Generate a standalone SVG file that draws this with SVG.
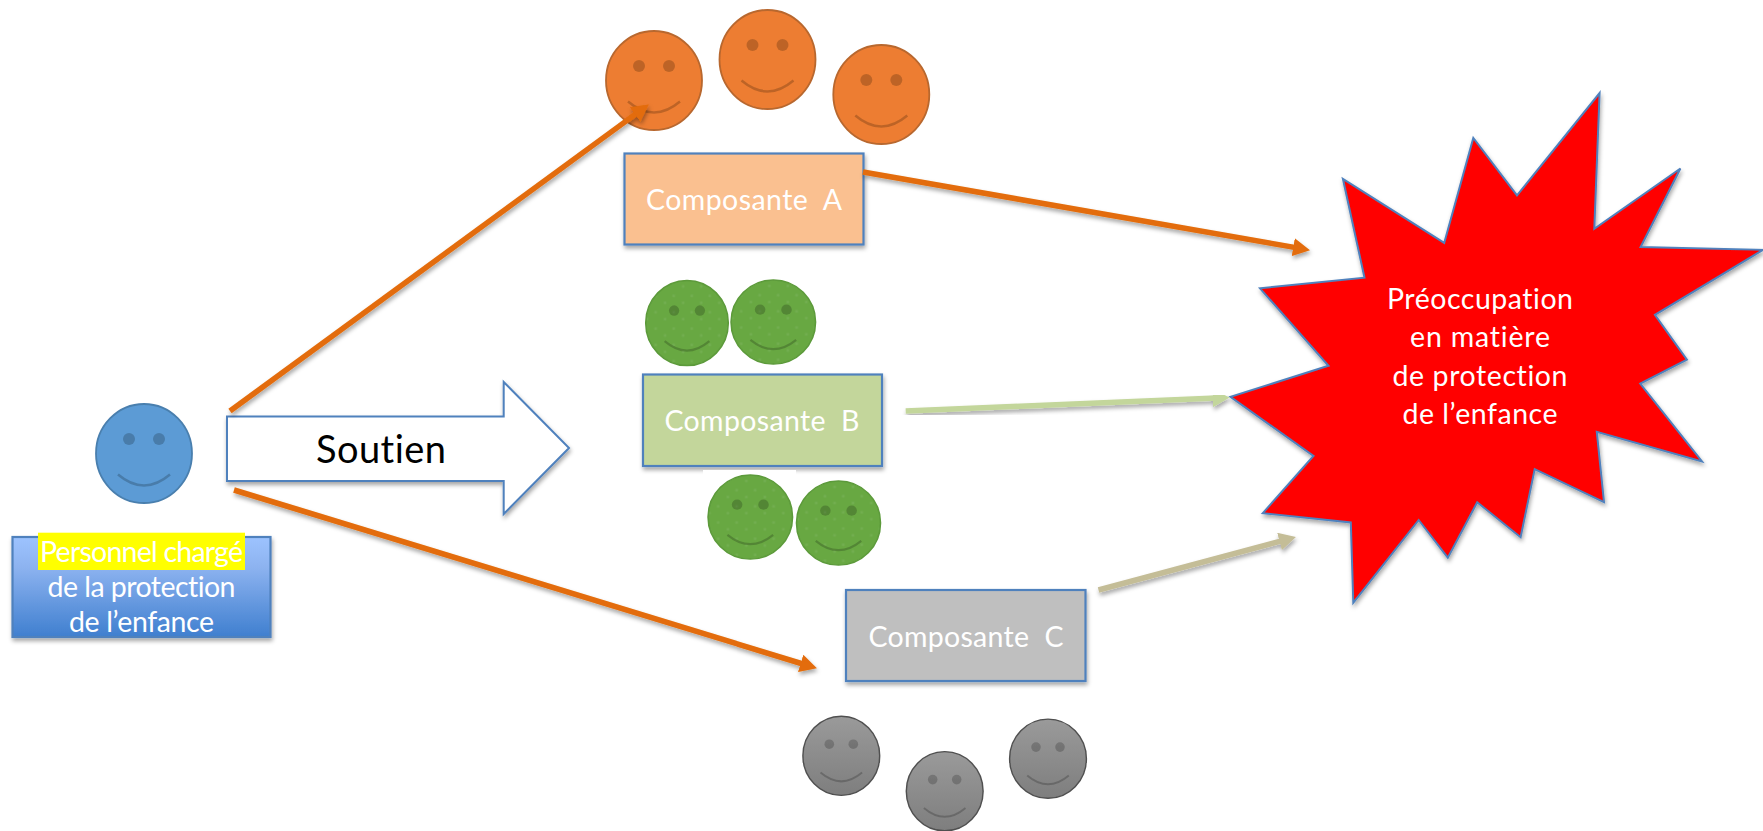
<svg xmlns="http://www.w3.org/2000/svg" xmlns:xlink="http://www.w3.org/1999/xlink" width="1763" height="831" viewBox="0 0 1763 831">
<style>
text{font-family:"Lato","Carlito","Liberation Sans",sans-serif;fill:#fff;text-anchor:middle;font-size:28.5px;font-variant-ligatures:none}
.box{stroke:#4F81BD;stroke-width:2.2;filter:url(#sh)}
.link{fill:none;stroke-width:5.5;filter:url(#sh)}
.orange{stroke:#E36C09}.leaf{stroke:#C3D69B}.tan{stroke:#C4BD97}
.faces{filter:url(#soft)}
.fo{fill:#ED7D31;stroke:#B8672F}.fb{fill:#5B9BD5;stroke:#4A7FAE}
.fg{fill:url(#speck);stroke:#5C9A3A}.fk{fill:url(#grey);stroke:#505050}
.eye{fill:#000;fill-opacity:.2;stroke:none}
.smile{fill:none;stroke:#000;stroke-opacity:.2;stroke-width:2.5}
.fk .eye{fill-opacity:.5}.fk .smile{stroke-opacity:.6;stroke-width:3.5}
.fk ellipse{stroke-width:3}
.fg .eye{fill-opacity:.28}.fg .smile{stroke-width:3.5}
</style>
<defs>
<filter id="sh" x="-20%" y="-20%" width="140%" height="150%"><feDropShadow dx="1" dy="3" stdDeviation="2" flood-color="#000" flood-opacity=".35"/></filter>
<filter id="soft" x="-5%" y="-5%" width="110%" height="110%"><feGaussianBlur stdDeviation=".7"/></filter>
<linearGradient id="blue" x1="0" y1="0" x2="0" y2="1"><stop offset="0" stop-color="#9DC3FF"/><stop offset=".3" stop-color="#8DB3F0"/><stop offset="1" stop-color="#3F7FCF"/></linearGradient>
<linearGradient id="grey" x1="0" y1="0" x2="0" y2="1"><stop offset="0" stop-color="#9A9A9A"/><stop offset="1" stop-color="#7E7E7E"/></linearGradient>
<pattern id="speck" width="21" height="19" patternUnits="userSpaceOnUse"><rect width="21" height="19" fill="#68A842"/><rect x="4" y="5" width="3" height="3" fill="#72AE50"/><rect x="15" y="13" width="3" height="3" fill="#72AE50"/></pattern>
<marker id="mo" markerUnits="userSpaceOnUse" markerWidth="17" markerHeight="18" viewBox="0 -9 17 18" refX="4" refY="0" orient="auto"><path d="M0-9L17 0L0 9Z" fill="#E36C09"/></marker>
<marker id="ml" markerUnits="userSpaceOnUse" markerWidth="17" markerHeight="18" viewBox="0 -9 17 18" refX="4" refY="0" orient="auto"><path d="M0-9L17 0L0 9Z" fill="#C3D69B"/></marker>
<marker id="mt" markerUnits="userSpaceOnUse" markerWidth="17" markerHeight="18" viewBox="0 -9 17 18" refX="4" refY="0" orient="auto"><path d="M0-9L17 0L0 9Z" fill="#C4BD97"/></marker>
<g id="face"><ellipse rx="48" ry="49.5" stroke-width="1.8"/><circle class="eye" cx="-15" cy="-14.5" r="6"/><circle class="eye" cx="15" cy="-14.5" r="6"/><path class="smile" d="M-26 21Q0 43 26 21"/></g>
</defs>
<rect width="1763" height="831" fill="#fff"/>

<g id="star">
<path d="M1599.6 93L1594.3 228.8L1680.4 168.5L1640.6 247L1763 249.8L1654.9 314.9L1686.9 359.6L1640.2 383.7L1702 461.5L1596.8 431.9L1604 502.2L1534.7 469.1L1520.6 537.3L1477.2 502.2L1447.8 557.6L1418.7 520L1353.3 602.7L1350.8 522.5L1262.8 513.2L1313.5 456L1230.5 396.8L1328.5 365.8L1260 288.3L1364.5 277.7L1342.9 178.8L1444.2 242.9L1473.3 137.9L1517 195.4Z" fill="#f00" stroke="#4F81BD" stroke-width="2" filter="url(#sh)"/>
<text x="1480" y="309" textLength="186">Préoccupation</text>
<text x="1480" y="347" textLength="140">en matière</text>
<text x="1480" y="385.8" textLength="175">de protection</text>
<text x="1480" y="424.3" textLength="155">de l’enfance</text>
</g>

<g id="person-face" class="faces"><use xlink:href="#face" href="#face" class="fb" x="144" y="453.5"/></g>
<g id="person">
<rect class="box" x="12.5" y="537" width="258" height="100" fill="url(#blue)"/>
<rect x="38" y="532.7" width="207" height="37.3" fill="#ff0"/>
<text x="141.5" y="561.7" textLength="203">Personnel chargé</text>
<text x="141.5" y="596.7" textLength="188">de la protection</text>
<text x="141.5" y="631.7" textLength="145">de l’enfance</text>
</g>

<g id="soutien">
<path d="M227 416.5H503.7V382L569 448L503.7 514V481H227Z" fill="#fff" stroke="#4F81BD" stroke-width="2" filter="url(#sh)"/>
<text x="381" y="463" style="fill:#000;font-size:38px" textLength="130">Soutien</text>
</g>

<g id="faces-a" class="faces">
<use xlink:href="#face" href="#face" class="fo" x="654" y="80.5"/>
<use xlink:href="#face" href="#face" class="fo" x="767.5" y="59.5"/>
<use xlink:href="#face" href="#face" class="fo" x="881.3" y="94.5"/>
</g>
<g id="comp-a">
<rect class="box" x="624.5" y="153.5" width="239" height="91" fill="#FAC090"/>
<text x="744" y="210" textLength="196" xml:space="preserve">Composante  A</text>
</g>

<g id="comp-b">
<rect class="box" x="643" y="374.5" width="239" height="91.5" fill="#C3D69B"/>
<text x="762" y="430.7" textLength="195" xml:space="preserve">Composante  B</text>
</g>
<g id="faces-b">
<rect x="703" y="470" width="93" height="30" fill="#fff"/>
<g class="faces">
<use xlink:href="#face" href="#face" class="fg" transform="translate(687 323) scale(.86)"/>
<use xlink:href="#face" href="#face" class="fg" transform="translate(773.3 322) scale(.88 .85)"/>
<use xlink:href="#face" href="#face" class="fg" transform="translate(750.3 517) scale(.88 .85)"/>
<use xlink:href="#face" href="#face" class="fg" transform="translate(838.5 523) scale(.875 .85)"/>
</g>
</g>

<g id="comp-c">
<rect class="box" x="846" y="590" width="239.5" height="91" fill="#BFBFBF"/>
<text x="966" y="646.7" textLength="195" xml:space="preserve">Composante  C</text>
</g>
<g id="faces-c" class="faces">
<use xlink:href="#face" href="#face" class="fk" transform="translate(841.3 755.8) scale(.8)"/>
<use xlink:href="#face" href="#face" class="fk" transform="translate(944.7 791.2) scale(.8)"/>
<use xlink:href="#face" href="#face" class="fk" transform="translate(1048 758.7) scale(.8)"/>
</g>

<g id="connectors">
<path class="link orange" d="M230 411L638.3 112.1" marker-end="url(#mo)"/>
<path class="link orange" d="M863 172L1297.2 247.9" marker-end="url(#mo)"/>
<path class="link orange" d="M234 490L804.5 664.5" marker-end="url(#mo)"/>
<path class="link leaf" d="M905.7 411L1216.7 398" marker-end="url(#ml)"/>
<path class="link tan" d="M1098.5 590L1283.4 540.4" marker-end="url(#mt)"/>
</g>
</svg>
